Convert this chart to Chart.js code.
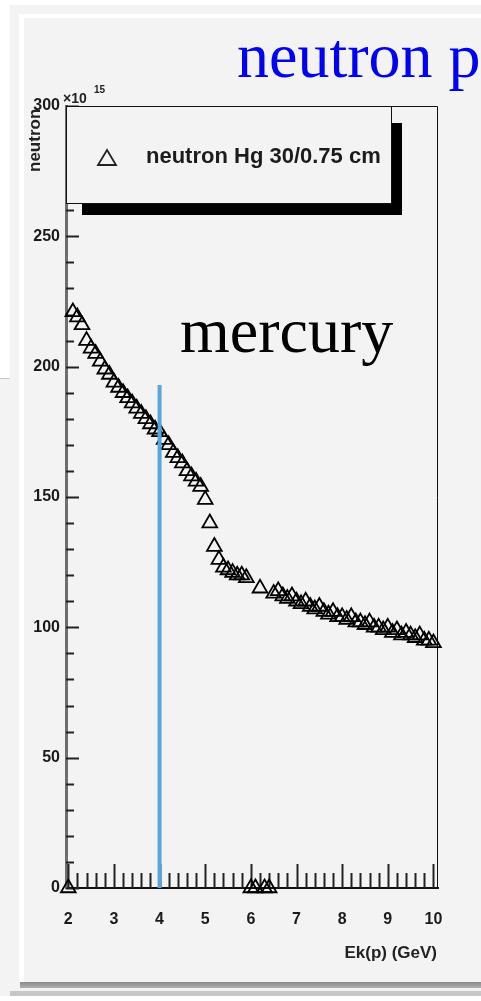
<!DOCTYPE html>
<html><head><meta charset="utf-8">
<script src="https://cdn.jsdelivr.net/npm/chart.js@4.4.0/dist/chart.umd.min.js"></script>
<style>
html,body{margin:0;padding:0;background:#f3f3f3;width:481px;height:1001px;overflow:hidden;position:relative}
.b{position:absolute}
#c{position:absolute;left:0;top:0}
</style></head><body>
<div class="b" style="left:0;top:0;width:481px;height:5px;background:#fff"></div>
<div class="b" style="left:0;top:0;width:10px;height:378px;background:#fff;border-bottom:1px solid #c8c8c8"></div>
<div class="b" style="left:19px;top:14px;width:5px;height:968px;background:#fff"></div>
<div class="b" style="left:19px;top:14px;width:462px;height:4px;background:#fff"></div>
<div class="b" style="left:20px;top:982px;width:461px;height:6px;background:linear-gradient(#8a8a8a,#b0b0b0)"></div>
<div class="b" style="left:10px;top:991px;width:471px;height:5px;background:#c6c6c6"></div>
<div class="b" style="left:0;top:996px;width:481px;height:5px;background:#fff"></div>
<canvas id="c" width="481" height="1001"></canvas>
<script>
// ---- data ----
const energies = [2.1,2.2,2.3,2.4,2.5,2.6,2.7,2.8,2.9,3.0,3.1,3.2,3.3,3.4,3.5,3.6,3.7,3.8,3.9,4.0,
  4.1,4.2,4.3,4.4,4.5,4.6,4.7,4.8,4.9,5.0,5.1,5.2,5.3,5.4,5.5,5.6,5.7,5.8,5.9,6.2,
  6.5,6.6,6.7,6.8,6.9,7.0,7.1,7.2,7.3,7.4,7.5,7.6,7.7,7.8,7.9,8.0,8.1,8.2,8.3,8.4,
  8.5,8.6,8.7,8.8,8.9,9.0,9.1,9.2,9.3,9.4,9.5,9.6,9.7,9.8,9.9,10.0];
const neutrons = [221,219,216,210,207,205,202,199,197,194,192,190,188,186,184,182,180,178,176,175,
  172,170,167,165,163,160,158,156,154,149,140,131,126,123,122,121,120,120,119,115,
  113,114,112,111,112,110,109,110,108,107,108,106,105,106,104,104,103,104,102,102,
  101,102,100,100,99,100,98,99,97,98,97,96,97,95,95,94];
const zeroEnergies = [2.0,6.0,6.1,6.3,6.4];
const zeroNeutrons = [0,0,0,0,0];
const markerLine = {energy:4, from:0, to:193};
const xTicks = [2,3,4,5,6,7,8,9,10];
const yTicks = [0,50,100,150,200,250,300];
const legendLabel = 'neutron Hg 30/0.75 cm';

const pts = energies.map((e,i)=>({x:e,y:neutrons[i]})).concat(zeroEnergies.map((e,i)=>({x:e,y:zeroNeutrons[i]})));

const tickFont = {family:'Liberation Sans', weight:'bold', size:16};

const deco = {
  id:'deco',
  beforeDatasetsDraw(chart){
    const {ctx, chartArea:a, scales:{x,y}} = chart;
    ctx.save();
    ctx.strokeStyle='#111'; ctx.lineWidth=1;
    ctx.beginPath(); ctx.moveTo(a.left, a.top+0.5); ctx.lineTo(a.right-0.5, a.top+0.5); ctx.lineTo(a.right-0.5, a.bottom); ctx.stroke();
    // y ticks (inward)
    ctx.strokeStyle='#222'; ctx.lineWidth=2;
    for (let v=0; v<=300; v+=10){
      const py=Math.round(y.getPixelForValue(v))+0.5;
      const len = (v%50===0)?13:8;
      ctx.beginPath(); ctx.moveTo(a.left, py); ctx.lineTo(a.left+len, py); ctx.stroke();
    }
    // x ticks (inward)
    for (let k=20; k<=100; k+=2){
      const v=k/10;
      const px=Math.round(x.getPixelForValue(v))+0.5;
      const len = (k%10===0)?24:15;
      ctx.beginPath(); ctx.moveTo(px, a.bottom); ctx.lineTo(px, a.bottom-len); ctx.stroke();
    }
    ctx.restore();
  },
  afterDraw(chart){
    const {ctx} = chart;
    ctx.save();
    // legend shadow + box
    ctx.fillStyle='#000';
    ctx.fillRect(82,123,320,92);
    ctx.fillStyle='#f3f3f3';
    ctx.fillRect(66,106,326,98);
    ctx.strokeStyle='#111'; ctx.lineWidth=1;
    ctx.strokeRect(66.5,106.5,325,97);
    // legend marker
    ctx.strokeStyle='#222'; ctx.lineWidth=1.8;
    ctx.beginPath(); ctx.moveTo(107,150); ctx.lineTo(116,165); ctx.lineTo(98,165); ctx.closePath(); ctx.stroke();
    ctx.fillStyle='#1c1c1c';
    ctx.font='bold 22px "Liberation Sans"';
    ctx.textBaseline='alphabetic'; ctx.textAlign='left';
    ctx.fillText(legendLabel,146,163);
    // y title
    ctx.save();
    ctx.translate(40,172); ctx.rotate(-Math.PI/2);
    ctx.font='bold 17px "Liberation Sans"'; ctx.fillStyle='#222';
    ctx.fillText('neutron',0,0);
    ctx.restore();
    // exponent
    ctx.fillStyle='#222';
    ctx.font='bold 14px "Liberation Sans"';
    ctx.fillText('\u00d710',63,103);
    ctx.font='bold 10px "Liberation Sans"';
    ctx.fillText('15',94,93);
    // x title
    ctx.font='bold 17px "Liberation Sans"'; ctx.textAlign='right';
    ctx.fillText('Ek(p) (GeV)',437,958);
    // slide texts
    ctx.textAlign='left';
    ctx.font='64px "Liberation Serif"'; ctx.fillStyle='#0000f5';
    ctx.fillText('neutron pr',237,77);
    ctx.font='64px "Liberation Serif"'; ctx.fillStyle='#000';
    ctx.fillText('mercury',180,352);
    ctx.restore();
  }
};

new Chart(document.getElementById('c'), {
  type:'scatter',
  data:{datasets:[
    {type:'line', data:[{x:markerLine.energy,y:markerLine.from},{x:markerLine.energy,y:markerLine.to}],
     borderColor:'#5aa6dc', borderWidth:4, pointRadius:0, order:0, clip:false, borderCapStyle:'butt'},
    {data:pts, pointStyle:'triangle', pointRadius:8.5, pointHoverRadius:8.5, borderWidth:1.8,
     borderColor:'#000', backgroundColor:'rgba(0,0,0,0)', order:1, clip:false}
  ]},
  options:{
    responsive:false, animation:false, devicePixelRatio:1,
    layout:{padding:{left:0, top:106, right:43, bottom:0}},
    plugins:{legend:{display:false}, tooltip:{enabled:false}},
    scales:{
      x:{type:'linear', min:1.95, max:10.10,
         afterFit(s){s.height=113;},
         afterBuildTicks(s){s.ticks=xTicks.map(v=>({value:v}));},
         grid:{display:false, drawTicks:false},
         border:{display:true, color:'#111', width:2},
         ticks:{padding:22, color:'#1a1a1a', font:tickFont, maxRotation:0, autoSkip:false}},
      y:{type:'linear', min:0, max:300,
         afterFit(s){s.width=66;},
         afterBuildTicks(s){s.ticks=yTicks.map(v=>({value:v}));},
         grid:{display:false, drawTicks:false},
         border:{display:true, color:'#6e6e6e', width:3},
         ticks:{padding:6, color:'#1a1a1a', font:tickFont}}
    }
  },
  plugins:[deco]
});
</script>
</body></html>
